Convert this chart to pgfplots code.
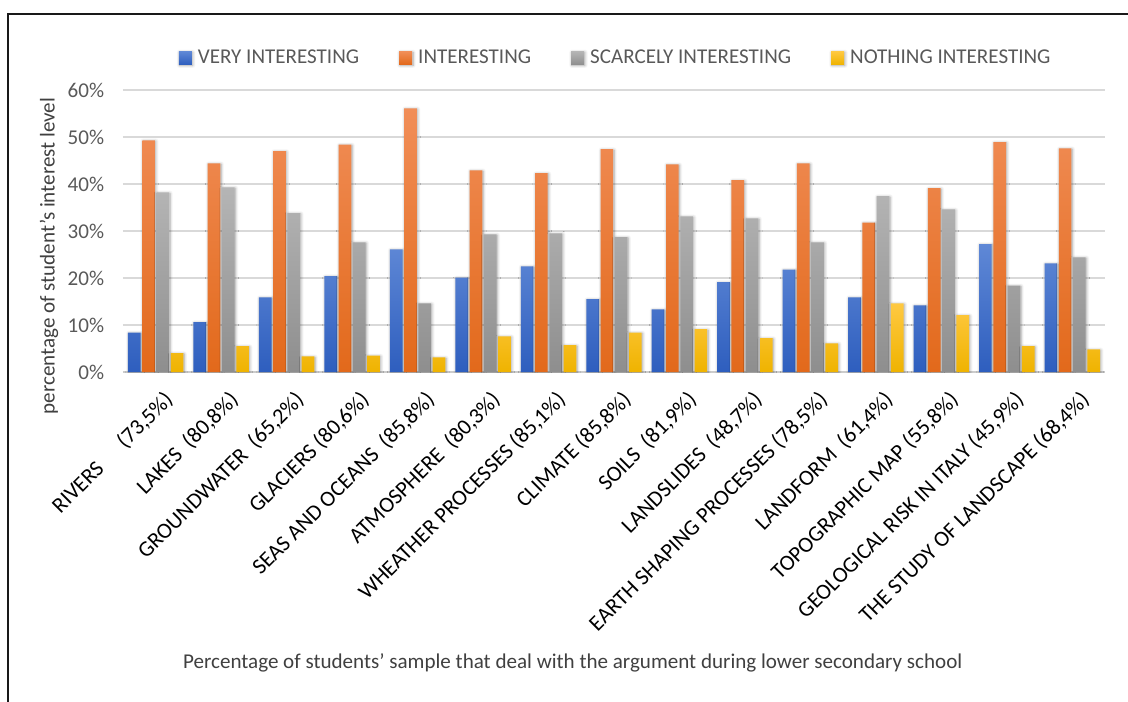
\documentclass[border=0pt]{standalone}
\usepackage{fontspec}
\setmainfont{Carlito}
\usepackage{pgfplots}
\usepackage{pgfplotstable}
\usetikzlibrary{shadows.blur}
\pgfplotsset{compat=1.18}

\definecolor{blueTop}{HTML}{5F88D6}
\definecolor{blueBot}{HTML}{2E5EBE}
\definecolor{orangeTop}{HTML}{F18E58}
\definecolor{orangeBot}{HTML}{E2691B}
\definecolor{grayTop}{HTML}{B5B5B5}
\definecolor{grayBot}{HTML}{8E8E8E}
\definecolor{yellowTop}{HTML}{FFC942}
\definecolor{yellowBot}{HTML}{EFB300}
\definecolor{gridgray}{HTML}{D9D9D9}
\definecolor{ticktext}{HTML}{595959}
\definecolor{labeltext}{HTML}{404040}

% soft glow around each bar
\tikzset{bar shadow/.style={blur shadow={shadow xshift=0.6pt, shadow yshift=-0.6pt,
    shadow blur radius=2.2pt, shadow blur steps=8, shadow opacity=35}}}

% interest level (% of students) per topic
\pgfplotstableread{
x  vi    int   sc    ni
0  8.4   49.3  38.2  4.0
1  10.6  44.4  39.3  5.5
2  15.9  47.0  33.8  3.3
3  20.4  48.4  27.6  3.5
4  26.1  56.1  14.6  3.1
5  20.1  42.9  29.3  7.6
6  22.5  42.3  29.5  5.7
7  15.5  47.4  28.7  8.4
8  13.3  44.2  33.1  9.1
9  19.1  40.8  32.7  7.2
10 21.8  44.4  27.6  6.1
11 15.9  31.8  37.4  14.6
12 14.2  39.1  34.6  12.1
13 27.2  48.9  18.4  5.5
14 23.1  47.6  24.4  4.8
}\interest

\newcommand{\chartfont}{\fontsize{15.8}{19}\selectfont}
\newcommand{\tickfont}{\fontsize{16.6}{20}\selectfont}

\begin{document}
\begin{tikzpicture}
\useasboundingbox (-92.25pt,-247.5pt) rectangle (753.75pt,279pt);
\draw[line width=1.5pt, black!90] (-86.25pt,-250pt) -- (-86.25pt,268.5pt) -- (756pt,268.5pt);
\begin{axis}[
  at={(0pt,0pt)}, anchor=south west,
  scale only axis, width=736.5pt, height=211.5pt,
  xmin=-0.5, xmax=14.5, ymin=0, ymax=60,
  ybar=1.2pt, bar width=9.5pt,
  axis lines*=left,
  y axis line style={draw=none},
  x axis line style={draw=gridgray!85!gray, line width=1.5pt, -},
  ymajorgrids, major grid style={draw=gridgray, line width=1.3pt},
  xtick={0,...,14}, ytick={0,10,...,60},
  major tick length=0pt,
  xticklabels={
    {RIVERS\hspace{1.3em}(73,5\%)},
    {LAKES\ \ (80,8\%)},
    {GROUNDWATER\ \ (65,2\%)},
    {GLACIERS (80,6\%)},
    {SEAS AND OCEANS\ \ (85,8\%)},
    {ATMOSPHERE\ \ (80,3\%)},
    {WHEATHER PROCESSES (85,1\%)},
    {CLIMATE (85,8\%)},
    {SOILS\ \ (81,9\%)},
    {LANDSLIDES\ \ (48,7\%)},
    {EARTH SHAPING PROCESSES (78,5\%)},
    {LANDFORM\ \ (61,4\%)},
    {TOPOGRAPHIC MAP (55,8\%)},
    {GEOLOGICAL RISK IN ITALY (45,9\%)},
    {THE STUDY OF LANDSCAPE (68,4\%)}},
  xticklabel style={font=\tickfont, text=black, inner sep=0pt,
    xshift=5pt, yshift=-13pt, rotate=45, anchor=north east},
  yticklabel={\pgfmathprintnumber{\tick}\%},
  /pgf/number format/assume math mode=true,
  yticklabel style={font=\chartfont, text=ticktext, inner sep=0pt, xshift=-14pt, anchor=east},
  xlabel={Percentage of students' sample that deal with the argument during lower secondary school},
  ylabel={percentage of student's interest level},
  every axis x label/.style={at={(axis description cs:0.5,0)}, xshift=-31pt, yshift=-218pt,
    anchor=center, font=\chartfont, text=labeltext},
  every axis y label/.style={at={(axis description cs:0,0.5)}, xshift=-55.5pt, yshift=-18.75pt,
    rotate=90, anchor=center, font=\chartfont, text=labeltext},
  legend columns=4,
  legend style={at={(axis description cs:0.5,1)}, anchor=center, xshift=1.5pt, yshift=24pt,
    draw=none, fill=none, font=\chartfont, text=ticktext,
    /tikz/every odd column/.append style={column sep=2.5pt},
    /tikz/every even column/.append style={column sep=28pt}},
  legend image code/.code={\tikzset{bar shadow/.style={}}%
    \fill[#1] (0pt,-4.875pt) rectangle (9.75pt,4.875pt);},
]
\addplot[draw=none, bar shadow, top color=blueTop, bottom color=blueBot] table[x=x, y=vi] {\interest};
\addplot[draw=none, bar shadow, top color=orangeTop, bottom color=orangeBot] table[x=x, y=int] {\interest};
\addplot[draw=none, bar shadow, top color=grayTop, bottom color=grayBot] table[x=x, y=sc] {\interest};
\addplot[draw=none, bar shadow, top color=yellowTop, bottom color=yellowBot] table[x=x, y=ni] {\interest};
\legend{VERY INTERESTING, INTERESTING, SCARCELY INTERESTING, NOTHING INTERESTING}
\end{axis}
\end{tikzpicture}
\end{document}
